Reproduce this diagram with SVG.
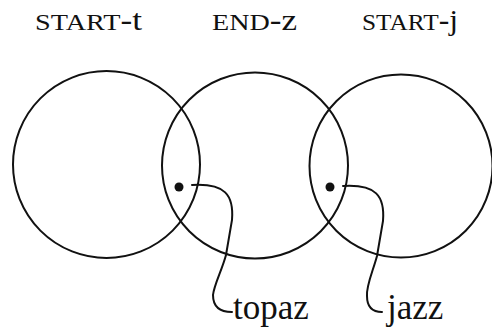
<svg xmlns="http://www.w3.org/2000/svg" width="492" height="331" viewBox="0 0 492 331">
<style>
.c{fill:none;stroke:#111;stroke-width:2}
.l{fill:none;stroke:#111;stroke-width:2;stroke-linecap:round}
.d{fill:#111}
.t{font-family:"Liberation Serif",serif;fill:#111}
.cap{font-size:24px}
.low{font-size:30px}
</style>
<rect width="492" height="331" fill="#fff"/>
<g id="title-start-t"><text class="t" x="35" y="30" textLength="107" lengthAdjust="spacingAndGlyphs"><tspan class="cap">START</tspan><tspan class="low">-t</tspan></text></g>
<g id="title-end-z"><text class="t" x="212" y="30" textLength="85" lengthAdjust="spacingAndGlyphs"><tspan class="cap">END</tspan><tspan class="low">-z</tspan></text></g>
<g id="title-start-j"><text class="t" x="362" y="30" textLength="96" lengthAdjust="spacingAndGlyphs"><tspan class="cap">START</tspan><tspan class="low">-j</tspan></text></g>
<g id="circle-1"><circle class="c" cx="106.5" cy="164.5" r="93.5"/></g>
<g id="circle-2"><circle class="c" cx="255" cy="165.5" r="93"/></g>
<g id="circle-3"><circle class="c" cx="401" cy="166" r="91.5"/></g>
<g id="dot-topaz"><circle class="d" cx="179" cy="187" r="4.5"/></g>
<g id="dot-jazz"><circle class="d" cx="330" cy="187" r="4.5"/></g>
<g id="connectors">
<path class="l" d="M192,185 C225,183 234,195 232,220 L226,255 C222,270 214,285 213,295 C213,307 220,312 232,312"/>
<path class="l" d="M343,186 C376,184 385,196 383,221 L377,256 C373,271 366,286 367,296 C367,307 372,312 382,312"/>
</g>
<g id="label-topaz"><text class="t" x="233" y="319" font-size="35">topaz</text></g>
<g id="label-jazz"><text class="t" x="387" y="319" font-size="35">jazz</text></g>
</svg>
